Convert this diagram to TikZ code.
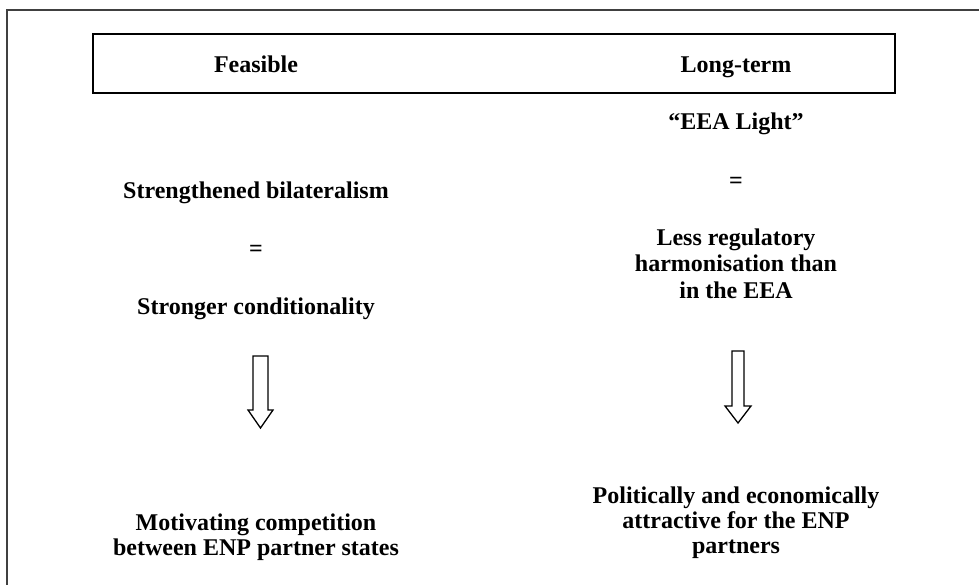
\documentclass[tikz,border=0pt]{standalone}
\usepackage{fontspec}
\setmainfont{Liberation Serif}
\begin{document}
\begin{tikzpicture}[x=1pt,y=-1pt,
  lbl/.style={anchor=base,inner sep=0pt,font=\fontsize{24}{26}\selectfont\bfseries},
  frameline/.style={draw=black!75,line width=1.5pt},
  headbox/.style={draw=black,line width=2pt},
  blockarrow/.style={draw=black,line width=1.3pt,fill=white,line join=miter}]
\useasboundingbox (0,0) rectangle (979,585);
% outer frame (continues beyond the picture)
\draw[frameline] (7,1000) -- (7,10) -- (1100,10);
% header box
\draw[headbox] (93,34) rectangle (895,93);
\node[lbl] (feasible) at (256,73) {Feasible};
\node[lbl] (longterm) at (736,73) {Long-term};
% left column
\node[lbl] (bilat) at (256,199) {Strengthened bilateralism};
\node[lbl] (eqL) at (256,256) {=};
\node[lbl] (cond) at (256,314) {Stronger conditionality};
\node[lbl] (motiv1) at (256,530) {Motivating competition};
\node[lbl] (motiv2) at (256,555) {between ENP partner states};
% right column
\node[lbl] (eea) at (736,130) {“EEA Light”};
\node[lbl] (eqR) at (736,189) {=};
\node[lbl] (less1) at (736,246) {Less regulatory};
\node[lbl] (less2) at (736,272) {harmonisation than};
\node[lbl] (less3) at (736,298) {in the EEA};
\node[lbl] (pol1) at (736,503) {Politically and economically};
\node[lbl] (pol2) at (736,528) {attractive for the ENP};
\node[lbl] (pol3) at (736,553) {partners};
% block arrows
\coordinate (arL) at (260.5,356);
\coordinate (arR) at (738,351);
\draw[blockarrow] (arL) ++(-7.5,0) -- ++(0,54) -- ++(-5,0) -- ++(12.5,18) -- ++(12.5,-18) -- ++(-5,0) -- ++(0,-54) -- cycle;
\draw[blockarrow] (arR) ++(-6,0) -- ++(0,55) -- ++(-7,0) -- ++(13,17) -- ++(13,-17) -- ++(-7,0) -- ++(0,-55) -- cycle;
\end{tikzpicture}
\end{document}
